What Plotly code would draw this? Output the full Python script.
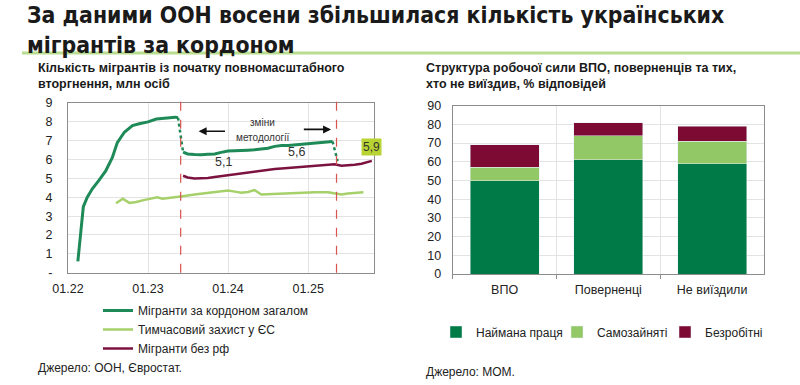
import plotly.graph_objects as go

# ---------------- data: left chart ----------------
total_dates_a = ["2022-02-15", "2022-03-12", "2022-03-30", "2022-04-22", "2022-05-22", "2022-06-22",
                 "2022-07-22", "2022-08-14", "2022-09-15", "2022-10-22", "2022-11-22", "2023-01-01",
                 "2023-02-08", "2023-03-22", "2023-05-05", "2023-05-18"]
total_vals_a = [0.6, 3.5, 4.0, 4.45, 4.9, 5.4, 6.1, 6.9, 7.45, 7.8, 7.9, 8.0, 8.15, 8.2, 8.25, 8.22]

total_break1_dates = ["2023-05-18", "2023-06-10"]
total_break1_vals = [8.22, 6.4]

total_dates_b = ["2023-06-10", "2023-07-01", "2023-08-01", "2023-09-01", "2023-10-01", "2023-11-01",
                 "2023-12-01", "2024-01-01", "2024-02-01", "2024-03-01", "2024-04-01", "2024-05-01",
                 "2024-06-01", "2024-07-01", "2024-08-01", "2024-09-01", "2024-10-01", "2024-11-01",
                 "2024-12-01", "2025-01-01", "2025-02-01", "2025-03-01", "2025-04-01", "2025-04-22"]
total_vals_b = [6.4, 6.3, 6.27, 6.25, 6.28, 6.3, 6.38, 6.45, 6.47, 6.5, 6.5, 6.52,
                6.55, 6.6, 6.7, 6.75, 6.75, 6.78, 6.82, 6.85, 6.88, 6.92, 6.95, 6.96]

total_break2_dates = ["2025-04-22", "2025-05-15"]
total_break2_vals = [6.96, 5.92]

norf_dates = ["2023-06-10", "2023-07-01", "2023-08-01", "2023-09-01", "2023-10-01", "2023-11-01",
              "2023-12-01", "2024-01-01", "2024-02-01", "2024-03-01", "2024-04-01", "2024-05-01",
              "2024-06-01", "2024-07-01", "2024-08-01", "2024-09-01", "2024-10-01", "2024-11-01",
              "2024-12-01", "2025-01-01", "2025-02-01", "2025-03-01", "2025-04-01", "2025-05-01",
              "2025-06-01", "2025-07-01", "2025-08-01", "2025-09-01", "2025-10-01", "2025-10-18"]
norf_vals = [5.14, 5.05, 5.0, 4.99, 5.02, 5.07, 5.12, 5.18, 5.22, 5.28, 5.33, 5.38,
             5.42, 5.46, 5.5, 5.53, 5.56, 5.6, 5.62, 5.64, 5.67, 5.7, 5.73, 5.75,
             5.67, 5.69, 5.72, 5.78, 5.86, 5.93]

tp_dates = ["2022-08-08", "2022-09-08", "2022-10-08", "2022-11-08", "2022-12-12", "2023-01-12",
            "2023-02-12", "2023-03-08", "2023-04-08", "2023-05-08", "2023-06-08", "2023-08-01",
            "2023-10-01", "2023-12-01", "2024-01-01", "2024-02-01", "2024-03-01", "2024-04-01",
            "2024-05-01", "2024-06-01", "2024-08-01", "2024-10-01", "2024-12-01", "2025-02-01",
            "2025-04-01", "2025-06-01", "2025-07-01", "2025-09-10"]
tp_vals = [3.68, 3.92, 3.7, 3.75, 3.85, 3.92, 4.0, 3.92, 3.98, 4.03, 4.06, 4.15,
           4.24, 4.3, 4.36, 4.3, 4.24, 4.28, 4.38, 4.15, 4.18, 4.2, 4.25, 4.27,
           4.27, 4.15, 4.2, 4.27]

method_change_dates = ["2023-05-30", "2025-05-10"]
left_ytick_vals = [0, 1, 2, 3, 4, 5, 6, 7, 8, 9]
left_ytick_text = ["-", "1", "2", "3", "4", "5", "6", "7", "8", "9"]
left_xtick_vals = ["2022-01-01", "2023-01-01", "2024-01-01", "2025-01-01"]
left_xtick_text = ["01.22", "01.23", "01.24", "01.25"]

# value labels (migrants without RF)
label_dates = ["2023-12-10", "2024-11-10"]
label_vals = [5.1, 5.6]
last_label = "5,9"

# ---------------- data: right chart ----------------
categories = ["ВПО", "Поверненці", "Не виїздили"]
hired = [50, 61, 59]
self_employed = [7, 13, 12]
unemployed = [12, 7, 8]

# ---------------- styling ----------------
C_TOTAL = "#1e8a57"
C_TP = "#a6d06a"
C_NORF = "#7c1240"
B_DARK = "#007a46"
B_LIGHT = "#92c865"
B_MAROON = "#7c0a33"
GRID = "#e3e3e3"
FRAME = "#8c8c8c"
FONT = "Liberation Sans, Arial, sans-serif"
TITLE_FONT = "Liberation Sans Narrow, Arial Narrow, DejaVu Sans Condensed, sans-serif"

W, H = 800, 385
def px(x):
    return x / W
def py(y):
    return 1 - y / H

fig = go.Figure()

fig.add_trace(go.Scatter(x=total_dates_a, y=total_vals_a, mode="lines",
                         line=dict(color=C_TOTAL, width=3), name="Мігранти за кордоном загалом",
                         legend="legend", legendgroup="t", xaxis="x", yaxis="y"))
fig.add_trace(go.Scatter(x=total_break1_dates, y=total_break1_vals, mode="lines",
                         line=dict(color=C_TOTAL, width=2.5, dash="dot"), showlegend=False,
                         legendgroup="t", xaxis="x", yaxis="y"))
fig.add_trace(go.Scatter(x=total_dates_b, y=total_vals_b, mode="lines",
                         line=dict(color=C_TOTAL, width=3), showlegend=False,
                         legendgroup="t", xaxis="x", yaxis="y"))
fig.add_trace(go.Scatter(x=total_break2_dates, y=total_break2_vals, mode="lines",
                         line=dict(color=C_TOTAL, width=2.5, dash="dot"), showlegend=False,
                         legendgroup="t", xaxis="x", yaxis="y"))
fig.add_trace(go.Scatter(x=tp_dates, y=tp_vals, mode="lines",
                         line=dict(color=C_TP, width=2.5), name="Тимчасовий захист у ЄС",
                         legend="legend", xaxis="x", yaxis="y"))
fig.add_trace(go.Scatter(x=norf_dates, y=norf_vals, mode="lines",
                         line=dict(color=C_NORF, width=2.5), name="Мігранти без рф",
                         legend="legend", xaxis="x", yaxis="y"))

fig.add_trace(go.Bar(x=categories, y=hired, name="Наймана праця", marker_color=B_DARK,
                     legend="legend2", xaxis="x2", yaxis="y2"))
fig.add_trace(go.Bar(x=categories, y=self_employed, name="Самозайняті", marker_color=B_LIGHT,
                     legend="legend3", xaxis="x2", yaxis="y2"))
fig.add_trace(go.Bar(x=categories, y=unemployed, name="Безробітні", marker_color=B_MAROON,
                     legend="legend4", xaxis="x2", yaxis="y2"))

shapes = []
for d in method_change_dates:
    shapes.append(dict(type="line", xref="x", yref="y domain", x0=d, x1=d, y0=0, y1=1.02,
                       line=dict(color="#d9534f", width=1.2, dash="dash")))
shapes.append(dict(type="line", xref="paper", yref="paper", x0=px(22), x1=1, y0=py(53), y1=py(53),
                   line=dict(color="#b9dd8f", width=3)))

annotations = [
    dict(text="<b>За даними ООН восени збільшилася кількість українських<br>мігрантів за кордоном</b>",
         xref="paper", yref="paper", x=px(25), y=py(0), xanchor="left", yanchor="top", align="left",
         showarrow=False, font=dict(family=TITLE_FONT, size=22.8, color="#1a1a1a")),
    dict(text="<b>Кількість мігрантів із початку повномасштабного<br>вторгнення, млн осіб</b>",
         xref="paper", yref="paper", x=px(36), y=py(59), xanchor="left", yanchor="top", align="left",
         showarrow=False, font=dict(family=FONT, size=12.5, color="#1a1a1a")),
    dict(text="<b>Структура робочої сили ВПО, поверненців та тих,<br>хто не виїздив, % відповідей</b>",
         xref="paper", yref="paper", x=px(424), y=py(59), xanchor="left", yanchor="top", align="left",
         showarrow=False, font=dict(family=FONT, size=12.5, color="#1a1a1a")),
    dict(text="Джерело: ООН, Євростат.", xref="paper", yref="paper", x=px(36), y=py(368),
         xanchor="left", yanchor="middle", showarrow=False, font=dict(family=FONT, size=12, color="#222")),
    dict(text="Джерело: МОМ.", xref="paper", yref="paper", x=px(424), y=py(372),
         xanchor="left", yanchor="middle", showarrow=False, font=dict(family=FONT, size=12, color="#222")),
    dict(text="зміни", xref="paper", yref="paper", x=px(262), y=py(122),
         xanchor="center", yanchor="middle", showarrow=False, font=dict(family=FONT, size=10, color="#333")),
    dict(text="методології", xref="paper", yref="paper", x=px(262), y=py(137),
         xanchor="center", yanchor="middle", showarrow=False, font=dict(family=FONT, size=10, color="#333")),
    dict(x="2023-08-20", y=7.5, ax="2023-12-25", ay=7.5, xref="x", yref="y", axref="x", ayref="y",
         text="", showarrow=True, arrowhead=2, arrowsize=1, arrowwidth=1.6, arrowcolor="#111"),
    dict(x="2025-04-15", y=7.6, ax="2024-12-05", ay=7.6, xref="x", yref="y", axref="x", ayref="y",
         text="", showarrow=True, arrowhead=2, arrowsize=1, arrowwidth=1.6, arrowcolor="#111"),
    dict(text=last_label, x=norf_dates[-1], y=norf_vals[-1], xref="x", yref="y", xanchor="center",
         yanchor="bottom", yshift=5, showarrow=False, bgcolor="#b8d432",
         font=dict(family=FONT, size=12, color="#333"), borderpad=1),
]
for d, v in zip(label_dates, label_vals):
    annotations.append(dict(text=f"{v:.1f}".replace(".", ","), x=d, y=v, xref="x", yref="y",
                            xanchor="center", yanchor="bottom", yshift=6, showarrow=False,
                            font=dict(family=FONT, size=12.5, color="#333")))

leg_common = dict(yanchor="middle", orientation="h", font=dict(size=12, color="#222"),
                  bgcolor="rgba(0,0,0,0)", itemwidth=30)

fig.update_layout(
    width=W, height=H, margin=dict(l=0, r=0, t=0, b=0, autoexpand=False),
    paper_bgcolor="white", plot_bgcolor="white",
    font=dict(family=FONT, size=12, color="#222"),
    barmode="stack", bargap=0.335,
    shapes=shapes, annotations=annotations,
    xaxis=dict(domain=[px(68), px(374)], anchor="y", type="date", automargin=False,
               range=["2022-01-01", "2025-10-28"], tickvals=left_xtick_vals, ticktext=left_xtick_text,
               showgrid=True, gridcolor=GRID, showline=True, mirror=True, linecolor=FRAME,
               linewidth=1, ticks="", ticklabelstandoff=4,
               tickfont=dict(size=12.5, color="#222"), zeroline=False),
    yaxis=dict(domain=[py(272.7), py(103)], anchor="x", range=[0, 9], automargin=False,
               tickvals=left_ytick_vals, ticktext=left_ytick_text, ticklabelstandoff=12,
               showgrid=True, gridcolor=GRID, showline=True, mirror=True, linecolor=FRAME,
               linewidth=1, ticks="", tickfont=dict(size=12.5, color="#222"), zeroline=False),
    xaxis2=dict(domain=[px(452.7), px(764)], anchor="y2", type="category", automargin=False,
                tickson="boundaries", showgrid=True, gridcolor=GRID, showline=True, mirror=True,
                linecolor=FRAME, linewidth=1, ticks="outside", ticklen=4, tickcolor=FRAME,
                ticklabelstandoff=4, tickfont=dict(size=12.5, color="#222")),
    yaxis2=dict(domain=[py(274), py(105.7)], anchor="x2", range=[0, 90], dtick=10, automargin=False,
                showgrid=True, gridcolor=GRID, showline=True, mirror=True, linecolor=FRAME,
                linewidth=1, ticks="", ticklabelstandoff=8,
                tickfont=dict(size=12.5, color="#222"), zeroline=False),
    legend=dict(x=px(98), y=py(296), xanchor="left", yanchor="top", orientation="v",
                font=dict(size=12, color="#222"), bgcolor="rgba(0,0,0,0)", tracegroupgap=0,
                itemwidth=30),
    legend2=dict(x=px(436), y=py(332), xanchor="left", **leg_common),
    legend3=dict(x=px(557), y=py(332), xanchor="left", **leg_common),
    legend4=dict(x=px(665), y=py(332), xanchor="left", **leg_common),
)

fig.write_html("out.html", config={"displayModeBar": False},
               post_script="document.body.style.margin='0px';")
